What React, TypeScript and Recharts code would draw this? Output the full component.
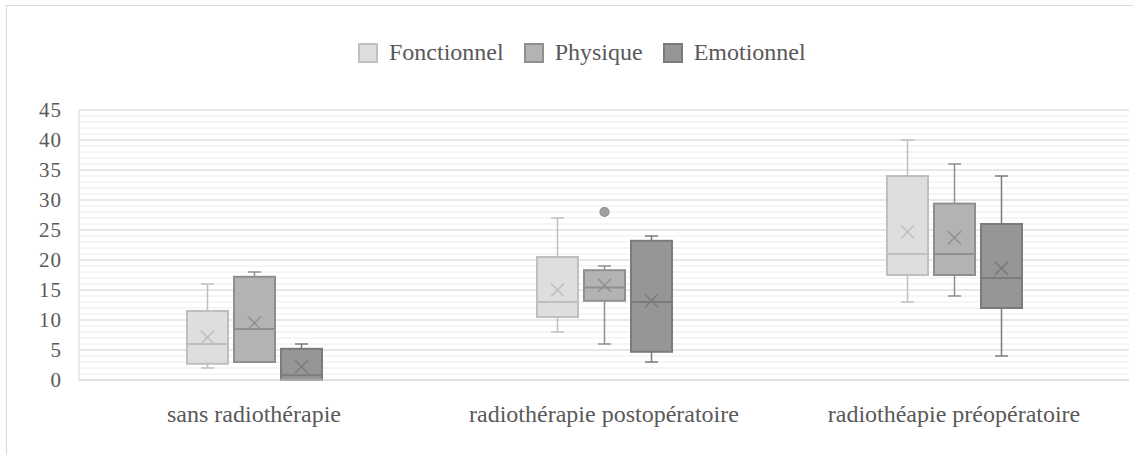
import React from 'react';
import { ComposedChart, Bar, XAxis, YAxis, CartesianGrid } from 'recharts';

const categories = ['sans radiothérapie', 'radiothérapie postopératoire', 'radiothéapie préopératoire'];
const seriesNames = ['Fonctionnel', 'Physique', 'Emotionnel'];

// valeurs (min, Q1, médiane, Q3, max, moyenne)
const fonctionnelMin = [2, 8, 13];
const fonctionnelQ1 = [2.7, 10.5, 17.5];
const fonctionnelMedian = [6, 13, 21];
const fonctionnelQ3 = [11.5, 20.5, 34];
const fonctionnelMax = [16, 27, 40];
const fonctionnelMean = [7.1, 15, 24.7];

const physiqueMin = [3, 6, 14];
const physiqueQ1 = [3, 13.2, 17.5];
const physiqueMedian = [8.5, 15.4, 21];
const physiqueQ3 = [17.2, 18.3, 29.4];
const physiqueMax = [18, 19, 36];
const physiqueMean = [9.5, 15.8, 23.7];
const physiqueOutliers = [[], [28], []];

const emotionnelMin = [0, 3, 4];
const emotionnelQ1 = [0, 4.7, 12];
const emotionnelMedian = [0.8, 13, 17];
const emotionnelQ3 = [5.2, 23.2, 26];
const emotionnelMax = [6, 24, 34];
const emotionnelMean = [2.2, 13.2, 18.6];

const yTicks = [0, 5, 10, 15, 20, 25, 30, 35, 40, 45];
const minorTicks = Array.from({ length: 46 }, (_, i) => i);

const FONT = '"Liberation Serif", "Times New Roman", serif';
const TEXT = '#595959';

const SERIES = [
  { key: 'fonc', name: seriesNames[0], fill: '#dedede', stroke: '#bfbfbf',
    min: fonctionnelMin, q1: fonctionnelQ1, median: fonctionnelMedian, q3: fonctionnelQ3, max: fonctionnelMax, mean: fonctionnelMean, outliers: [[], [], []] },
  { key: 'phys', name: seriesNames[1], fill: '#b3b3b3', stroke: '#8f8f8f',
    min: physiqueMin, q1: physiqueQ1, median: physiqueMedian, q3: physiqueQ3, max: physiqueMax, mean: physiqueMean, outliers: physiqueOutliers },
  { key: 'emo', name: seriesNames[2], fill: '#969696', stroke: '#7b7b7b',
    min: emotionnelMin, q1: emotionnelQ1, median: emotionnelMedian, q3: emotionnelQ3, max: emotionnelMax, mean: emotionnelMean, outliers: [[], [], []] },
];

const data = categories.map((category, i) => {
  const row: any = { category };
  SERIES.forEach((s) => {
    row[s.key] = {
      min: s.min[i], q1: s.q1[i], median: s.median[i], q3: s.q3[i], max: s.max[i], mean: s.mean[i], outliers: s.outliers[i],
    };
  });
  return row;
});

// Dibuja la caja a partir del rectángulo [Q1, Q3] que calcula Recharts
function BoxShape(props: any) {
  const { x, y, width, height, payload, seriesKey, fill, stroke } = props;
  const st = payload[seriesKey];
  const top = Math.min(y, y + height);
  const h = Math.abs(height);
  const ppu = h / (st.q3 - st.q1);
  const yOf = (v: number) => top + h - (v - st.q1) * ppu;
  const cx = x + width / 2;
  const cap = 6.5;
  const m = 6.5;
  const my = yOf(st.mean);
  return (
    <g>
      {st.max > st.q3 && (
        <>
          <line x1={cx} x2={cx} y1={yOf(st.max)} y2={top} stroke={stroke} strokeWidth={1.5} />
          <line x1={cx - cap} x2={cx + cap} y1={yOf(st.max)} y2={yOf(st.max)} stroke={stroke} strokeWidth={1.5} />
        </>
      )}
      {st.min < st.q1 && (
        <>
          <line x1={cx} x2={cx} y1={top + h} y2={yOf(st.min)} stroke={stroke} strokeWidth={1.5} />
          <line x1={cx - cap} x2={cx + cap} y1={yOf(st.min)} y2={yOf(st.min)} stroke={stroke} strokeWidth={1.5} />
        </>
      )}
      <rect x={x + 1} y={top} width={width - 2} height={h} fill={fill} stroke={stroke} strokeWidth={2} />
      <line x1={x + 1} x2={x + width - 1} y1={yOf(st.median)} y2={yOf(st.median)} stroke={stroke} strokeWidth={2} />
      <line x1={cx - m} x2={cx + m} y1={my - m} y2={my + m} stroke={stroke} strokeWidth={1.5} />
      <line x1={cx - m} x2={cx + m} y1={my + m} y2={my - m} stroke={stroke} strokeWidth={1.5} />
      {st.outliers.map((o: number, j: number) => (
        <circle key={j} cx={cx} cy={yOf(o)} r={4.5} fill="#a0a0a0" stroke={stroke} strokeWidth={1.2} />
      ))}
    </g>
  );
}

function LegendBar() {
  return (
    <div
      style={{
        position: 'absolute', top: 39, left: 358, display: 'flex',
        alignItems: 'center', fontFamily: FONT, fontSize: 24, color: TEXT, whiteSpace: 'nowrap',
      }}
    >
      {SERIES.map((s, i) => (
        <div key={s.key} style={{ display: 'flex', alignItems: 'center', marginRight: i < SERIES.length - 1 ? 20 : 0 }}>
          <span style={{ width: 20, height: 20, background: s.fill, border: `2px solid ${s.stroke}`, boxSizing: 'border-box', marginRight: 11 }} />
          <span>{s.name}</span>
        </div>
      ))}
    </div>
  );
}

export default function App() {
  return (
    <div style={{ position: 'absolute', left: 0, top: 0, width: 1133, height: 455, overflow: 'hidden', background: '#fff' }}>
      <div style={{ position: 'absolute', left: 6, top: 5, width: 1200, height: 500, borderLeft: '1px solid #d9d9d9', borderTop: '1px solid #d9d9d9' }} />
      <LegendBar />
      <div style={{ position: 'absolute', left: 0, top: 0 }}>
        <ComposedChart
          width={1133}
          height={455}
          data={data}
          margin={{ top: 110, right: 4, left: 0, bottom: 0 }}
          barSize={43}
          barGap={4}
        >
          <CartesianGrid vertical={false} stroke="#ececec" horizontalValues={minorTicks} />
          <CartesianGrid vertical={false} stroke="#d9d9d9" />
          <XAxis
            dataKey="category"
            height={75}
            tickLine={false}
            axisLine={{ stroke: '#d9d9d9' }}
            tickSize={0}
            tickMargin={25}
            tick={{ fill: TEXT, fontSize: 24, fontFamily: FONT }}
          />
          <YAxis
            width={79}
            domain={[0, 45]}
            ticks={yTicks}
            interval={0}
            tickLine={false}
            axisLine={{ stroke: '#d9d9d9' }}
            tickSize={0}
            tickMargin={17}
            tick={{ fill: TEXT, fontSize: 21, fontFamily: FONT, letterSpacing: 1 }}
          />
          {SERIES.map((s) => (
            <Bar
              key={s.key}
              name={s.name}
              dataKey={(row: any) => [row[s.key].q1, row[s.key].q3]}
              fill={s.fill}
              isAnimationActive={false}
              shape={(p: any) => <BoxShape {...p} seriesKey={s.key} fill={s.fill} stroke={s.stroke} />}
            />
          ))}
        </ComposedChart>
      </div>
    </div>
  );
}
